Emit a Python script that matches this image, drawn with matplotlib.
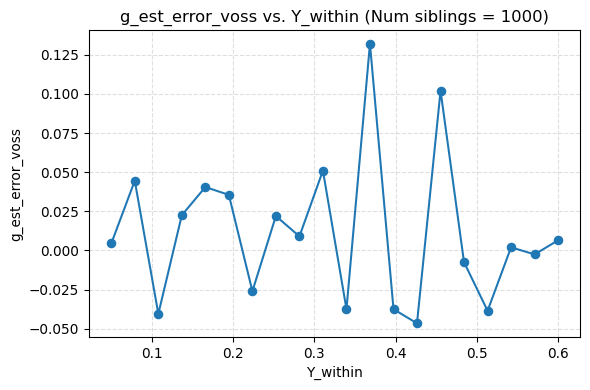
import numpy as np
import matplotlib
matplotlib.use("Agg")
import matplotlib.pyplot as plt

# ============= data =============
y_within = [0.05, 0.0789, 0.1079, 0.1368, 0.1658, 0.1947, 0.2237, 0.2526, 0.2816, 0.3105,
            0.3395, 0.3684, 0.3974, 0.4263, 0.4553, 0.4842, 0.5132, 0.5421, 0.5711, 0.6]
g_est_error_voss = [0.0045, 0.0445, -0.0405, 0.0225, 0.0405, 0.0355, -0.026, 0.022, 0.009, 0.051,
                    -0.0375, 0.132, -0.0375, -0.0465, 0.102, -0.0075, -0.0385, 0.002, -0.0025, 0.0065]

# ============= plotting =============
DPI = 590 / 6.0
fig, ax = plt.subplots(figsize=(6.0, 390 / DPI), dpi=DPI)
ax.plot(y_within, g_est_error_voss, marker='o', color='#1f77b4')
ax.set_title("g_est_error_voss vs. Y_within (Num siblings = 1000)")
ax.set_xlabel("Y_within")
ax.set_ylabel("g_est_error_voss")
ax.grid(True, linestyle='--', alpha=0.4)
plt.tight_layout(pad=0.7)
fig.savefig("out.png", dpi=DPI)
